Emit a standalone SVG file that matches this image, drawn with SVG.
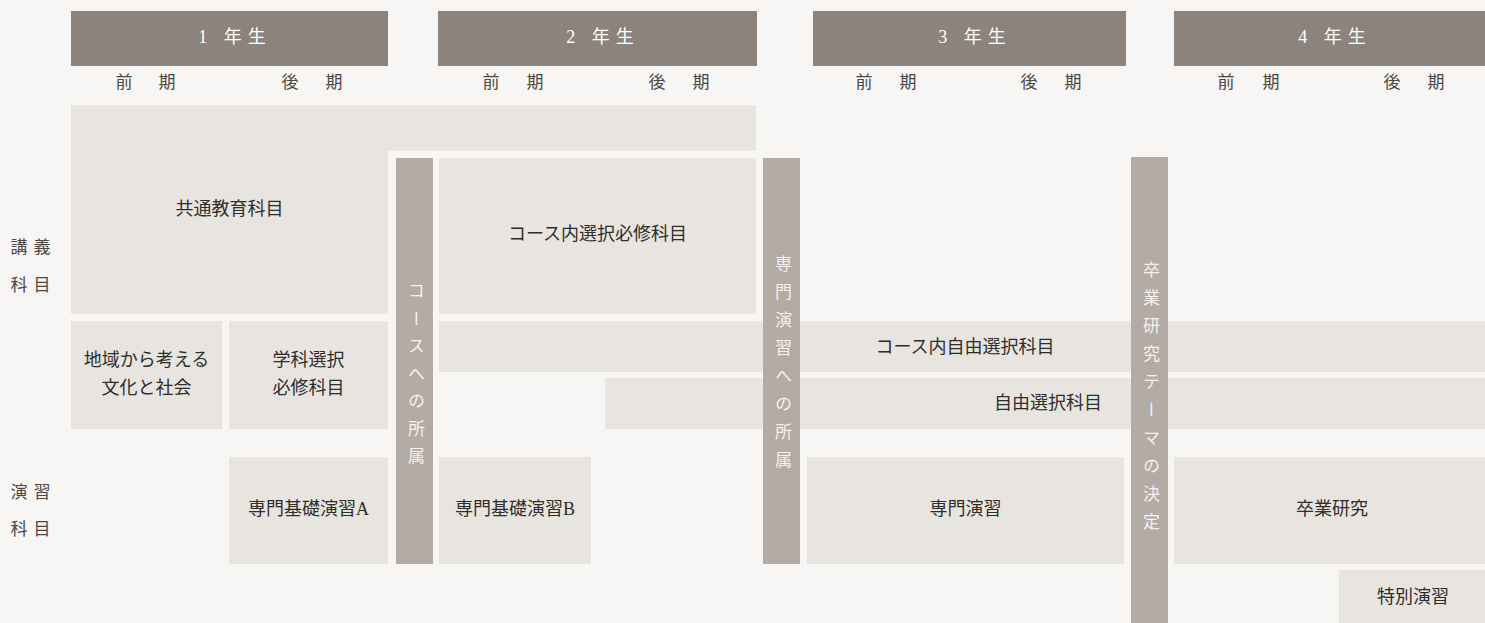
<svg xmlns="http://www.w3.org/2000/svg" width="1485" height="623" viewBox="0 0 1485 623">
<style>
  text { font-family: "Liberation Serif", "Noto Sans CJK JP", serif; }
  .hdr { fill: #8c837d; }
  .blk { fill: #e8e5e0; }
  .bar { fill: #b4aba5; }
  .htx { fill: #ffffff; font-size: 18px; letter-spacing: 6px; text-anchor: middle; }
  .term { fill: #4a4744; font-size: 17px; }
  .row { fill: #4a4744; font-size: 17px; letter-spacing: 6px; }
  .btx { fill: #2f2d2b; font-size: 18px; text-anchor: middle; }
  .vtx { fill: #f4f1ef; font-size: 17px; writing-mode: vertical-rl; }
</style>
<rect x="0" y="0" width="1485" height="623" fill="#f7f6f4"/>

<g id="headers">
  <g id="year1"><rect class="hdr" x="71" y="11" width="317" height="55"/><text class="htx" x="235" y="43">1 年生</text></g>
  <g id="year2"><rect class="hdr" x="438" y="11" width="319" height="55"/><text class="htx" x="603" y="43">2 年生</text></g>
  <g id="year3"><rect class="hdr" x="813" y="11" width="313" height="55"/><text class="htx" x="975" y="43">3 年生</text></g>
  <g id="year4"><rect class="hdr" x="1174" y="11" width="311" height="55"/><text class="htx" x="1335" y="43">4 年生</text></g>
</g>

<g id="terms">
  <text class="term" y="87.5"><tspan x="115.5">前</tspan><tspan x="158.5">期</tspan></text>
  <text class="term" y="87.5"><tspan x="281.5">後</tspan><tspan x="325.5">期</tspan></text>
  <text class="term" y="87.5"><tspan x="482.5">前</tspan><tspan x="526.5">期</tspan></text>
  <text class="term" y="87.5"><tspan x="648.5">後</tspan><tspan x="692.5">期</tspan></text>
  <text class="term" y="87.5"><tspan x="855.5">前</tspan><tspan x="899.5">期</tspan></text>
  <text class="term" y="87.5"><tspan x="1020.5">後</tspan><tspan x="1064.5">期</tspan></text>
  <text class="term" y="87.5"><tspan x="1217.5">前</tspan><tspan x="1262.5">期</tspan></text>
  <text class="term" y="87.5"><tspan x="1383.5">後</tspan><tspan x="1427.5">期</tspan></text>
</g>

<g id="row-labels">
  <text class="row" x="10.5" y="252.5">講義</text>
  <text class="row" x="10.5" y="290.5">科目</text>
  <text class="row" x="10.5" y="497.5">演習</text>
  <text class="row" x="10.5" y="534.5">科目</text>
</g>

<g id="nodes">
  <g id="kyotsu">
    <rect class="blk" x="71" y="105" width="685" height="46"/>
    <rect class="blk" x="71" y="151" width="317" height="163"/>
    <text class="btx" x="229.5" y="215">共通教育科目</text>
  </g>
  <g id="course-hisshu">
    <rect class="blk" x="439" y="158" width="317" height="156"/>
    <text class="btx" x="597.5" y="240">コース内選択必修科目</text>
  </g>
  <g id="chiiki">
    <rect class="blk" x="71" y="321" width="151" height="108"/>
    <text class="btx" x="146.5" y="366">地域から考える</text>
    <text class="btx" x="146.5" y="394">文化と社会</text>
  </g>
  <g id="gakka">
    <rect class="blk" x="229" y="321" width="159" height="108"/>
    <text class="btx" x="308.5" y="366">学科選択</text>
    <text class="btx" x="308.5" y="394">必修科目</text>
  </g>
  <g id="course-jiyu">
    <rect class="blk" x="439" y="321" width="1046" height="51"/>
    <text class="btx" x="965" y="353">コース内自由選択科目</text>
  </g>
  <g id="jiyu">
    <rect class="blk" x="605" y="378" width="880" height="51"/>
    <text class="btx" x="1048" y="409">自由選択科目</text>
  </g>
  <g id="kiso-a">
    <rect class="blk" x="229" y="457" width="159" height="107"/>
    <text class="btx" x="308.5" y="515">専門基礎演習A</text>
  </g>
  <g id="kiso-b">
    <rect class="blk" x="439" y="457" width="152" height="107"/>
    <text class="btx" x="515" y="515">専門基礎演習B</text>
  </g>
  <g id="senmon">
    <rect class="blk" x="807" y="457" width="317" height="107"/>
    <text class="btx" x="965.5" y="515">専門演習</text>
  </g>
  <g id="sotsuken">
    <rect class="blk" x="1174" y="457" width="311" height="107"/>
    <text class="btx" x="1332" y="515">卒業研究</text>
  </g>
  <g id="tokubetsu">
    <rect class="blk" x="1339" y="570" width="146" height="53"/>
    <text class="btx" x="1413" y="603">特別演習</text>
  </g>
  <g id="bar-course">
    <rect class="bar" x="396" y="158" width="37" height="406"/>
    <text class="vtx" x="414.5" y="282.5" style="letter-spacing:10.5px">コースへの所属</text>
  </g>
  <g id="bar-senmon">
    <rect class="bar" x="763" y="158" width="37" height="406"/>
    <text class="vtx" x="781.5" y="255.5" style="letter-spacing:11px">専門演習への所属</text>
  </g>
  <g id="bar-theme">
    <rect class="bar" x="1131" y="157" width="37" height="466"/>
    <text class="vtx" x="1149.5" y="261.5" style="letter-spacing:11px">卒業研究テーマの決定</text>
  </g>
</g>

<g id="connectors"></g>
</svg>
